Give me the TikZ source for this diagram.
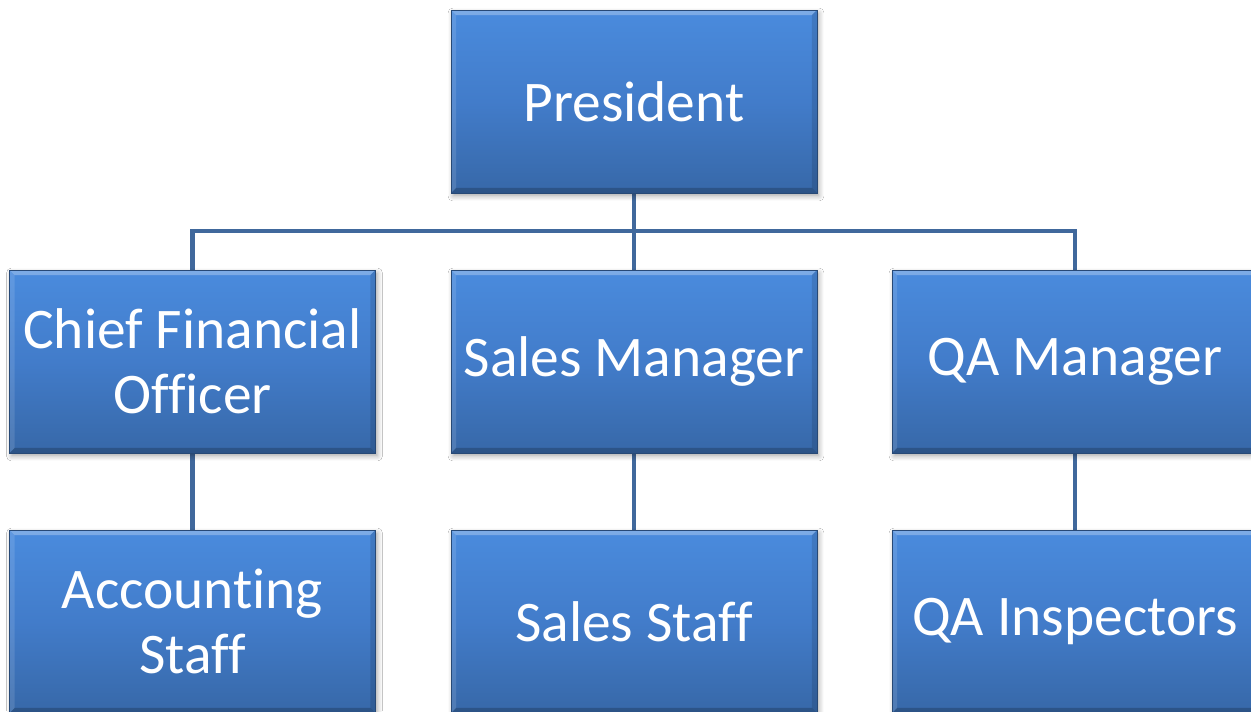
\documentclass[tikz,border=0pt]{standalone}
\usepackage{fontspec}
\setmainfont{Carlito}[Ligatures={NoCommon}]
\usetikzlibrary{shadows.blur,backgrounds}
\definecolor{boxtop}{RGB}{74,139,221}
\definecolor{boxmid}{RGB}{66,124,202}
\definecolor{boxbot}{RGB}{55,104,168}
\definecolor{linkblue}{RGB}{64,104,156}
\tikzset{
  orgbox/.style={
    minimum width=7.32cm, minimum height=3.66cm, inner sep=0pt,
    align=center, text=white,
    font=\fontsize{32.7}{37}\selectfont,
    top color=boxtop, bottom color=boxbot, middle color=boxmid,
    draw=boxbot!70!black, line width=0.3pt,
    blur shadow={shadow xshift=0.04cm, shadow yshift=-0.06cm,
                 shadow blur radius=0.1cm, shadow blur steps=6,
                 shadow opacity=35},
    path picture={
      % bevelled rim: light on top/left, dark on right/bottom
      \fill[white,opacity=0.28]
        (path picture bounding box.north west) -- (path picture bounding box.north east)
        -- ([shift={(-5,5)}]path picture bounding box.north east)
        -- ([shift={(5,5)}]path picture bounding box.north west) -- cycle;
      \fill[white,opacity=0.12]
        (path picture bounding box.north west) -- (path picture bounding box.south west)
        -- ([shift={(5,-5)}]path picture bounding box.south west)
        -- ([shift={(5,5)}]path picture bounding box.north west) -- cycle;
      \fill[black,opacity=0.12]
        (path picture bounding box.north east) -- (path picture bounding box.south east)
        -- ([shift={(-5,-5)}]path picture bounding box.south east)
        -- ([shift={(-5,5)}]path picture bounding box.north east) -- cycle;
      \fill[black,opacity=0.2]
        (path picture bounding box.south west) -- (path picture bounding box.south east)
        -- ([shift={(-5,-5)}]path picture bounding box.south east)
        -- ([shift={(5,-5)}]path picture bounding box.south west) -- cycle;
    }
  },
  link/.style={draw=linkblue, line width=0.09cm}
}
\begin{document}
\begin{tikzpicture}[x=0.02cm, y=-0.02cm]
  \useasboundingbox (0,0) rectangle (1251,711);
  \clip (0,0) rectangle (1251,711);

  % top level
  \node[orgbox] (pres) at (634,101.5) {President};
  % managers
  \node[orgbox] (cfo)   at (192.5,361.5) {Chief Financial\\Officer};
  \node[orgbox] (sales) at (634,361.5)   {Sales Manager};
  \node[orgbox] (qam)   at (1075,361.5)  {QA Manager};
  % staff
  \node[orgbox] (acc)    at (192.5,621.5) {Accounting\\Staff};
  \node[orgbox] (sstaff) at (634,621.5)   {Sales Staff};
  \node[orgbox] (qai)    at (1075,621.5)  {QA Inspectors};

  \coordinate (bus) at (634,231);

  \begin{scope}[on background layer]
    \fill[white] (0,0) rectangle (1251,711);
    \draw[link] (pres.south) -- (sales.north);
    \draw[link] (cfo.north) -- (cfo.north |- bus) -- (qam.north |- bus) -- (qam.north);
    \draw[link] (cfo.south) -- (acc.north);
    \draw[link] (sales.south) -- (sstaff.north);
    \draw[link] (qam.south) -- (qai.north);
  \end{scope}
\end{tikzpicture}
\end{document}
